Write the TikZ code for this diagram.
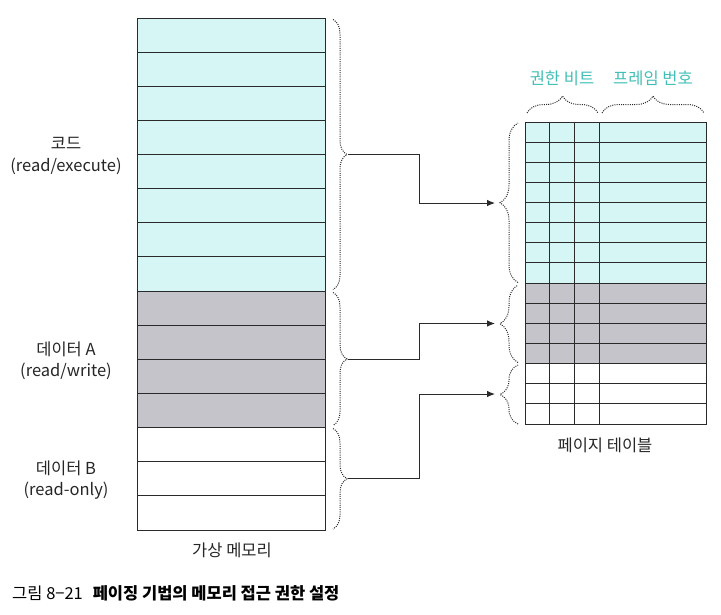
\documentclass[tikz,border=0pt]{standalone}
\usepackage{fontspec}
\setmainfont{Noto Sans CJK KR}
\usetikzlibrary{arrows.meta,decorations.pathreplacing,calc}
\definecolor{codecyan}{HTML}{D6F5F5}
\definecolor{datagray}{HTML}{C5C4CA}
\definecolor{teallabel}{HTML}{41BFB6}
\definecolor{gridline}{HTML}{2A2A2A}
\tikzset{
  grid/.style={draw=gridline, line width=0.9pt},
  bracedots/.style={draw=gridline, line width=1pt, dash pattern=on 1pt off 1.2pt,
     decorate, decoration={brace, amplitude=#1}},
  conn/.style={draw=gridline, line width=0.9pt, -{Latex[length=8pt,width=6.5pt]}},
  lbl/.style={align=center, inner sep=0pt, font=\fontsize{16.5}{21.5}\selectfont, text=black!85},
  toplbl/.style={inner sep=0pt, font=\fontsize{16.5}{19}\selectfont, text=teallabel},
}
\begin{document}
\begin{tikzpicture}[x=1pt,y=-1pt]
\useasboundingbox (0,0) rectangle (721,614);
% ---------- virtual memory ----------
\fill[codecyan] (137,18) rectangle (325,291);
\fill[datagray] (137,291) rectangle (325,427);
\fill[white] (137,427) rectangle (325,530);
\foreach \i in {1,...,14} {
  \draw[grid] (137,{18+\i*34.133}) -- (325,{18+\i*34.133});
}
\node[grid, rectangle, inner sep=0pt, minimum width=188pt, minimum height=512pt, anchor=north west] (vm) at (137,18) {};
% ---------- page table ----------
\fill[codecyan] (525,122) rectangle (706,283.1);
\fill[datagray] (525,283.1) rectangle (706,363.6);
\fill[white] (525,363.6) rectangle (706,424);
\foreach \i in {1,...,14} {
  \draw[grid] (525,{122+\i*20.133}) -- (706,{122+\i*20.133});
}
\foreach \x in {549.5,574,599} {
  \draw[grid] (\x,122) -- (\x,424);
}
\node[grid, rectangle, inner sep=0pt, minimum width=181pt, minimum height=302pt, anchor=north west] (pt) at (525,122) {};
% ---------- braces on virtual memory ----------
\draw[bracedots=14pt] (333,19.5) -- (333,289.5);
\draw[bracedots=14pt] (333,292.5) -- (333,425.5);
\draw[bracedots=14pt] (333,428.5) -- (333,529);
\coordinate (vb1) at (348,154.5);
\coordinate (vb2) at (348,359);
\coordinate (vb3) at (348,478.5);
% ---------- braces on page table ----------
\draw[bracedots=18pt] (518,282.5) -- (518,123);
\draw[bracedots=18pt] (518,362.5) -- (518,285);
\draw[bracedots=18pt] (518,424) -- (518,365);
\draw[bracedots=17pt] (527,113) -- (598,113);
\draw[bracedots=17pt] (602,113) -- (704,113);
\coordinate (pa1) at (495,203);
\coordinate (pa2) at (495,323.5);
\coordinate (pa3) at (495,394);
\coordinate (jx) at (419,0);
% ---------- connectors ----------
\draw[conn] (vb1) -- (vb1 -| jx) |- (pa1);
\draw[conn] (vb2) -- (vb2 -| jx) |- (pa2);
\draw[conn] (vb3) -- (vb3 -| jx) |- (pa3);
% ---------- labels ----------
\node[lbl] (lcode) at (66,156) {코드\\(read/execute)};
\node[lbl] (ldataa) at (66,361) {데이터 A\\(read/write)};
\node[lbl] (ldatab) at (66,480) {데이터 B\\(read-only)};
\node[lbl] (lvm) at (232,550) {가상 메모리};
\node[lbl] (lpt) at (605,445) {페이지 테이블};
\node[toplbl] (lbits) at (562,78) {권한 비트};
\node[toplbl] (lframe) at (653,78) {프레임 번호};
\node[anchor=west, inner sep=0pt, font=\fontsize{16.5}{19}\selectfont] (cap) at (12,593) {그림 8−21\hspace{0.6em}\textbf{페이징 기법의 메모리 접근 권한 설정}};
\end{tikzpicture}
\end{document}
